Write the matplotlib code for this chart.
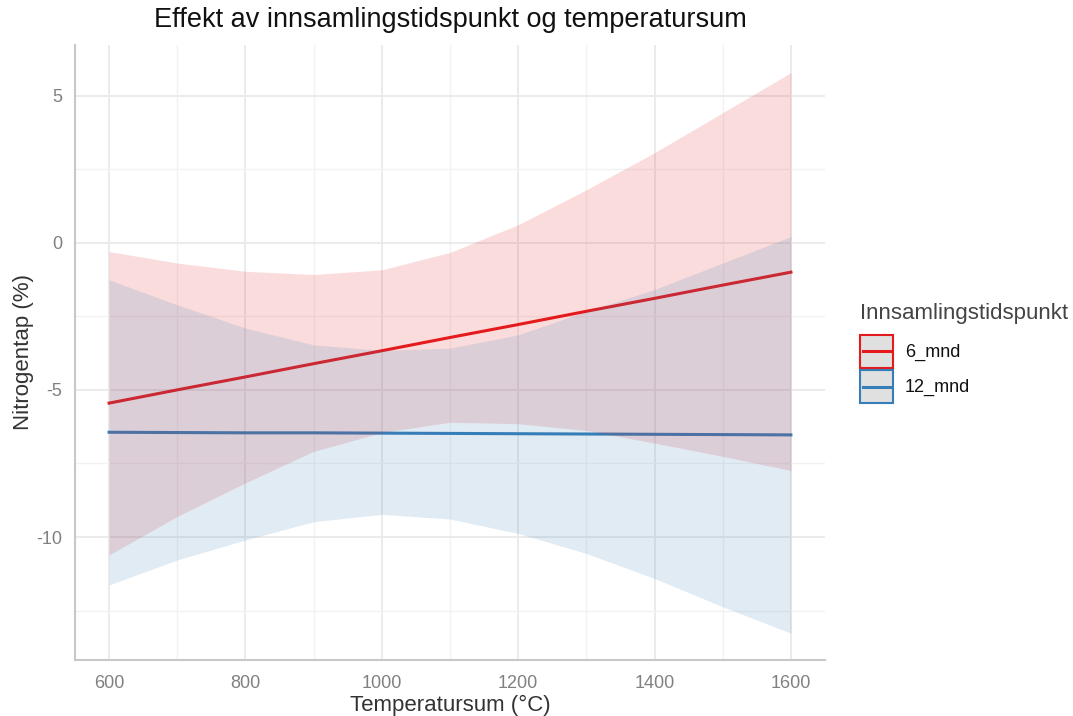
import matplotlib
matplotlib.use("Agg")
import matplotlib.pyplot as plt
from matplotlib.patches import Rectangle
from matplotlib.lines import Line2D
from matplotlib.ticker import MultipleLocator

plt.rcParams["font.family"] = ["Liberation Sans", "DejaVu Sans"]

temperatursum = [600, 700, 800, 900, 1000, 1100, 1200, 1300, 1400, 1500, 1600]

# 6 mnd: estimate and confidence band
fit_6 = [-5.45, -5.00, -4.56, -4.11, -3.67, -3.22, -2.78, -2.33, -1.89, -1.44, -1.00]
low_6 = [-10.61, -9.30, -8.16, -7.09, -6.45, -6.10, -6.15, -6.38, -6.81, -7.26, -7.74]
high_6 = [-0.30, -0.69, -0.97, -1.08, -0.92, -0.33, 0.61, 1.80, 3.06, 4.42, 5.78]

# 12 mnd: estimate and confidence band
fit_12 = [-6.44, -6.45, -6.46, -6.46, -6.47, -6.48, -6.49, -6.50, -6.51, -6.52, -6.53]
low_12 = [-11.63, -10.78, -10.10, -9.48, -9.23, -9.39, -9.88, -10.56, -11.41, -12.37, -13.27]
high_12 = [-1.26, -2.11, -2.90, -3.47, -3.66, -3.58, -3.13, -2.33, -1.59, -0.69, 0.21]

groups = ["6_mnd", "12_mnd"]
colors = {"6_mnd": "#E41A1C", "12_mnd": "#377EB8"}

W, H = 1073, 716


def fx(px):
    return px / W


def fy(py):
    return 1 - py / H


def main():
    fig = plt.figure(figsize=(W / 100, H / 100), dpi=100)
    ax = fig.add_axes([fx(75), fy(660), (825 - 75) / W, (660 - 45) / H])

    series = {
        "6_mnd": (fit_6, low_6, high_6),
        "12_mnd": (fit_12, low_12, high_12),
    }

    for g in groups:
        fit, low, high = series[g]
        ax.plot(temperatursum, fit, color=colors[g], lw=2.2, zorder=2)
    for g in groups:
        fit, low, high = series[g]
        ax.fill_between(temperatursum, low, high, color=colors[g], alpha=0.15,
                        lw=0, zorder=3)

    ax.set_xlim(550, 1650)
    ax.set_ylim(-14.18, 6.72)
    ax.xaxis.set_major_locator(MultipleLocator(200))
    ax.xaxis.set_minor_locator(MultipleLocator(100))
    ax.yaxis.set_major_locator(MultipleLocator(5))
    ax.yaxis.set_minor_locator(MultipleLocator(2.5))

    ax.grid(which="major", color="#EBEBEB", lw=1.4, zorder=0)
    ax.grid(which="minor", color="#F2F2F2", lw=1.0, zorder=0)
    ax.set_axisbelow(True)

    for side in ["top", "right"]:
        ax.spines[side].set_visible(False)
    for side in ["left", "bottom"]:
        ax.spines[side].set_color("#C8C8C8")
        ax.spines[side].set_linewidth(1.5)

    ax.tick_params(which="both", length=0, labelsize=13, labelcolor="#808080")
    ax.tick_params(axis="x", pad=11)
    ax.tick_params(axis="y", pad=9)
    ax.set_yticks([-10, -5, 0, 5])
    ax.set_yticklabels(["-10", "-5", "0", "5"])

    ax.set_xlabel("Temperatursum (°C)", fontsize=16, color="#333333", labelpad=2)
    ax.set_ylabel("Nitrogentap (%)", fontsize=16, color="#333333", labelpad=2)
    ax.set_title("Effekt av innsamlingstidspunkt og temperatursum",
                 fontsize=19.5, color="#111111", pad=13)

    # legend drawn by hand to get ggplot-style square keys
    fig.text(fx(860), fy(314), "Innsamlingstidspunkt", fontsize=16,
             color="#444444", ha="left", va="center")
    for i, g in enumerate(groups):
        top = 335 + i * 35
        fig.add_artist(Rectangle((fx(860), fy(top + 33)), 33 / W, 33 / H,
                                 transform=fig.transFigure, facecolor="#E0E0E0",
                                 edgecolor=colors[g], lw=1.5))
        fig.add_artist(Line2D([fx(863), fx(890)], [fy(top + 16.5)] * 2,
                              transform=fig.transFigure, color=colors[g], lw=2.2))
        fig.text(fx(905), fy(top + 17), g, fontsize=13, color="#111111",
                 ha="left", va="center")

    fig.savefig("out.png", dpi=100)
    plt.close(fig)


if __name__ == "__main__":
    main()
